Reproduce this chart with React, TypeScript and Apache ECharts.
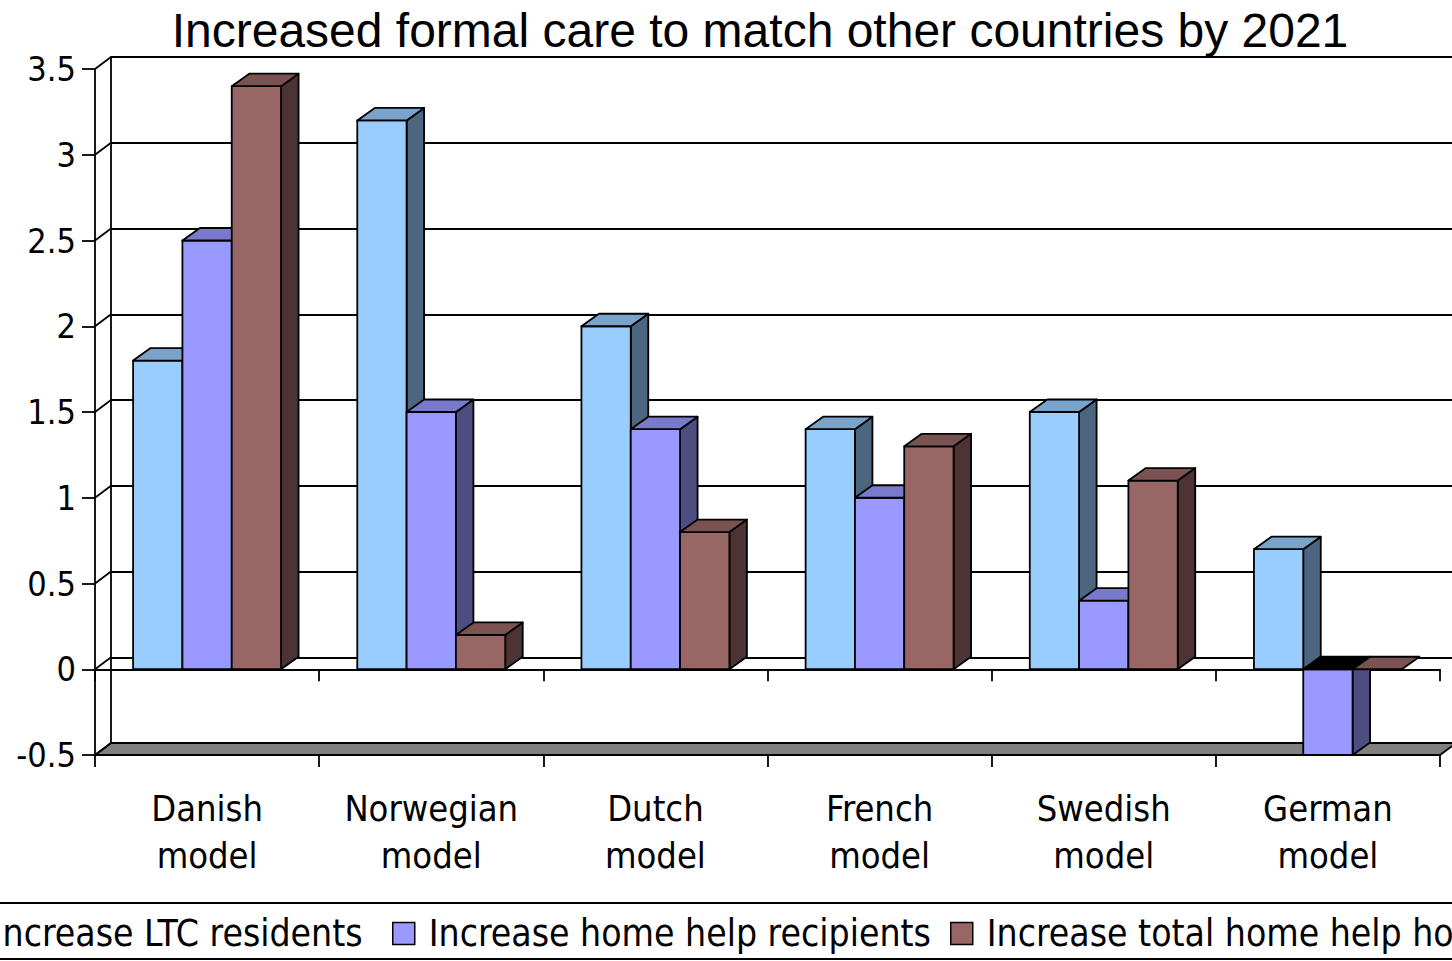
import React, { useEffect, useRef } from "react";
import * as echarts from "echarts";

// Category labels and series values
const categories = [
  "Danish\nmodel",
  "Norwegian\nmodel",
  "Dutch\nmodel",
  "French\nmodel",
  "Swedish\nmodel",
  "German\nmodel",
];
const seriesNames = [
  "Increase LTC residents",
  "Increase home help recipients",
  "Increase total home help hours",
];
const ltcResidents = [1.8, 3.2, 2.0, 1.4, 1.5, 0.7];
const homeHelpRecipients = [2.5, 1.5, 1.4, 1.0, 0.4, -0.5];
const homeHelpHours = [3.4, 0.2, 0.8, 1.3, 1.1, 0.0];
const seriesValues = [ltcResidents, homeHelpRecipients, homeHelpHours];

// Value axis ticks
const yTicks = [-0.5, 0, 0.5, 1, 1.5, 2, 2.5, 3, 3.5];
const Y_MIN = -0.5;
const Y_MAX = 3.5;
const Y_STEP = 0.5;

const TITLE = "Increased formal care to match other countries by 2021";

// Face colours for the pseudo-3D columns
const faces = [
  { front: "#99CCFF", top: "#7AA3CC", side: "#4D6680" },
  { front: "#9999FF", top: "#7A7ACC", side: "#4D4D80" },
  { front: "#996666", top: "#7A5252", side: "#4D3333" },
];

// Depth offsets of the columns and of the walls
const BAR_DX = 17.5;
const BAR_DY = -12.5;
const WALL_DX = 16;
const WALL_DY = -12;
const BAR_FRAC = 0.22;
const EDGE = 1.8;

const FRONT = { left: 95, top: 69, width: 1345, height: 686 };

const labelFont = "'DejaVu Sans Condensed', 'DejaVu Sans', sans-serif";
const titleFont = "'Liberation Sans', Arial, sans-serif";

const edgeStyle = { stroke: "#000", lineWidth: EDGE, lineJoin: "round" as const };

function barRenderer(s: number) {
  return (params: any, api: any) => {
    const idx = api.value(0);
    const v = api.value(1);
    const band = api.size([1, 0])[0];
    const bw = band * BAR_FRAC;
    const cx = api.coord([idx, 0])[0];
    const x0 = cx - 1.5 * bw + s * bw;
    const x1 = x0 + bw;
    const yZero = api.coord([idx, 0])[1];
    const yVal = api.coord([idx, v])[1];
    const top = Math.min(yZero, yVal);
    const bottom = Math.max(yZero, yVal);
    const c = faces[s];
    const topFill = v < 0 ? "#000" : c.top;
    const children: any[] = [];
    if (bottom - top > 0.5) {
      children.push({
        type: "polygon",
        shape: {
          points: [
            [x1, top],
            [x1 + BAR_DX, top + BAR_DY],
            [x1 + BAR_DX, bottom + BAR_DY],
            [x1, bottom],
          ],
        },
        style: { fill: c.side, ...edgeStyle },
      });
      children.push({
        type: "rect",
        shape: { x: x0, y: top, width: bw, height: bottom - top },
        style: { fill: c.front, ...edgeStyle },
      });
    }
    children.push({
      type: "polygon",
      shape: {
        points: [
          [x0, top],
          [x0 + BAR_DX, top + BAR_DY],
          [x1 + BAR_DX, top + BAR_DY],
          [x1, top],
        ],
      },
      style: { fill: topFill, ...edgeStyle },
    });
    return { type: "group", children };
  };
}

function floorRenderer(params: any, api: any) {
  const cs = params.coordSys;
  const y = api.coord([0, api.value(1)])[1];
  return {
    type: "polygon",
    shape: {
      points: [
        [cs.x, y],
        [cs.x + WALL_DX, y + WALL_DY],
        [cs.x + cs.width + WALL_DX, y + WALL_DY],
        [cs.x + cs.width, y],
      ],
    },
    style: { fill: "#808080", ...edgeStyle },
  };
}

function wallEdgeRenderer(params: any, api: any) {
  const cs = params.coordSys;
  const y = api.coord([0, api.value(1)])[1];
  return {
    type: "line",
    shape: { x1: cs.x, y1: y, x2: cs.x + WALL_DX, y2: y + WALL_DY },
    style: { stroke: "#000", lineWidth: EDGE },
  };
}

export default function App() {
  const ref = useRef<HTMLDivElement>(null);

  useEffect(() => {
    if (!ref.current) return;
    const chart = echarts.init(ref.current, undefined, { renderer: "svg" });

    const frontBottom = 961 - FRONT.top - FRONT.height;
    const backLeft = FRONT.left + WALL_DX;
    const backTop = FRONT.top + WALL_DY;

    const barSeries = seriesValues.map((vals, s) => ({
      type: "custom",
      name: seriesNames[s],
      xAxisIndex: 0,
      yAxisIndex: 0,
      z: 3 + s,
      itemStyle: { color: faces[s].front, borderColor: "#000", borderWidth: EDGE },
      renderItem: barRenderer(s),
      data: vals.map((v, i) => [i, v]),
    }));

    const legendLefts = [-44, 392, 950];

    chart.setOption({
      animation: false,
      backgroundColor: "#fff",
      grid: [
        {
          left: FRONT.left,
          top: FRONT.top,
          width: FRONT.width,
          bottom: frontBottom,
          containLabel: false,
        },
        {
          left: backLeft,
          top: backTop,
          width: FRONT.width,
          height: FRONT.height,
          containLabel: false,
        },
      ],
      xAxis: [
        {
          gridIndex: 0,
          type: "category",
          data: categories,
          position: "bottom",
          axisLine: { onZero: false, lineStyle: { color: "#000", width: EDGE } },
          axisTick: { show: true, length: 12, lineStyle: { color: "#000", width: EDGE } },
          axisLabel: {
            color: "#000",
            fontFamily: labelFont,
            fontSize: 36,
            lineHeight: 47,
            margin: 30,
            interval: 0,
          },
          splitLine: { show: false },
        },
        {
          gridIndex: 1,
          type: "category",
          data: categories,
          show: false,
        },
        {
          gridIndex: 0,
          type: "category",
          data: categories,
          position: "bottom",
          axisLine: { onZero: true, lineStyle: { color: "#000", width: EDGE } },
          axisTick: { show: true, length: 12, lineStyle: { color: "#000", width: EDGE } },
          axisLabel: { show: false },
          splitLine: { show: false },
        },
      ],
      yAxis: [
        {
          gridIndex: 0,
          type: "value",
          min: Y_MIN,
          max: Y_MAX,
          interval: Y_STEP,
          axisLine: { show: true, lineStyle: { color: "#000", width: EDGE } },
          axisTick: { show: true, length: 13, lineStyle: { color: "#000", width: EDGE } },
          axisLabel: {
            color: "#000",
            fontFamily: labelFont,
            fontSize: 34,
            margin: 19,
          },
          splitLine: { show: false },
        },
        {
          gridIndex: 1,
          type: "value",
          min: Y_MIN,
          max: Y_MAX,
          interval: Y_STEP,
          axisLine: { show: true, lineStyle: { color: "#000", width: EDGE } },
          axisTick: { show: false },
          axisLabel: { show: false },
          splitLine: { show: true, lineStyle: { color: "#000", width: EDGE } },
        },
      ],
      legend: seriesNames.map((name, i) => ({
        data: [name],
        left: legendLefts[i],
        top: 915,
        padding: 0,
        orient: "horizontal",
        icon: "rect",
        itemWidth: 22,
        itemHeight: 22,
        itemGap: 0,
        selectedMode: false,
        itemStyle: { borderColor: "#000", borderWidth: 1.5 },
        textStyle: {
          color: "#000",
          fontFamily: labelFont,
          fontSize: 37,
          padding: [0, 0, 0, 9],
        },
      })),
      graphic: [
        {
          type: "text",
          x: 760,
          y: 30,
          style: {
            text: TITLE,
            fill: "#000",
            font: `48px ${titleFont}`,
            textAlign: "center",
            textVerticalAlign: "middle",
          },
        },
        {
          type: "rect",
          shape: { x: -10, y: 903, width: 1480, height: 56 },
          style: { fill: "none", stroke: "#000", lineWidth: EDGE },
          z: -1,
        },
      ],
      series: [
        {
          type: "custom",
          xAxisIndex: 0,
          yAxisIndex: 0,
          z: 1,
          renderItem: floorRenderer,
          data: [[0, Y_MIN]],
          silent: true,
        },
        {
          type: "custom",
          xAxisIndex: 0,
          yAxisIndex: 0,
          z: 1,
          renderItem: wallEdgeRenderer,
          data: yTicks.map((t) => [0, t]),
          silent: true,
        },
        ...barSeries,
      ],
    });

    return () => chart.dispose();
  }, []);

  return (
    <div
      ref={ref}
      style={{ position: "fixed", left: 0, top: 0, width: 1452, height: 961 }}
    />
  );
}
